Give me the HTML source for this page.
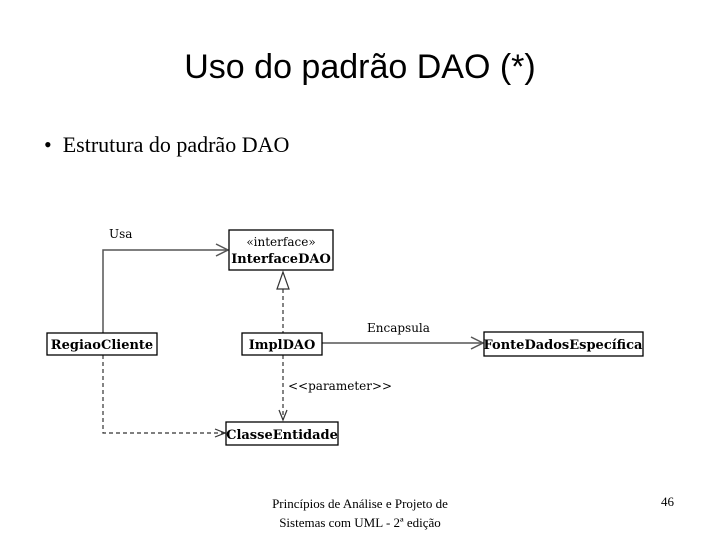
<!DOCTYPE html>
<html><head><meta charset="utf-8"><style>
body{margin:0;width:720px;height:540px;background:#fff;overflow:hidden;position:relative}
.t{position:absolute;white-space:nowrap}
</style></head><body>
<div class="t" style="left:0;width:720px;top:48px;text-align:center;font:34px 'Liberation Sans',sans-serif">Uso do padrão DAO (*)</div>
<div class="t" style="left:44px;top:132px;font:22px 'Liberation Serif',serif">•&nbsp;&nbsp;Estrutura do padrão DAO</div>
<svg width="720" height="540" style="position:absolute;left:0;top:0" font-family="'DejaVu Serif','Liberation Serif',serif">
<g fill="none" stroke="#555" stroke-width="1.5">
<polyline points="103,333 103,250 228,250"/>
<polyline points="216,244 228,250 216,256"/>
<line x1="322" y1="343" x2="483" y2="343"/>
<polyline points="471,337 483,343 471,349"/>
</g>
<g fill="none" stroke="#333" stroke-width="1.2" stroke-dasharray="4,3">
<line x1="283" y1="289" x2="283" y2="333"/>
<line x1="283" y1="355" x2="283" y2="420"/>
<polyline points="103,355 103,433 225,433"/>
</g>
<g fill="none" stroke="#333" stroke-width="1.2">
<polygon points="283,272 277,289 289,289" fill="#fff"/>
<polyline points="279,410 283,420 287,410"/>
<polyline points="215,429 225,433 215,437"/>
</g>
<g fill="#fff" stroke="#000" stroke-width="1.3">
<rect x="229" y="230" width="104" height="40"/>
<rect x="47" y="333" width="110" height="22"/>
<rect x="242" y="333" width="80" height="22"/>
<rect x="226" y="422" width="112" height="23"/>
<rect x="484" y="332" width="159" height="24"/>
</g>
<g font-size="13" fill="#000">
<text x="281" y="246" text-anchor="middle" font-size="12">«interface»</text>
<text x="281" y="263" text-anchor="middle" font-weight="bold">InterfaceDAO</text>
<text x="102" y="349" text-anchor="middle" font-weight="bold">RegiaoCliente</text>
<text x="282" y="349" text-anchor="middle" font-weight="bold">ImplDAO</text>
<text x="282" y="439" text-anchor="middle" font-weight="bold">ClasseEntidade</text>
<text x="563" y="349" text-anchor="middle" font-weight="bold">FonteDadosEspecífica</text>
<text x="109" y="238" font-size="12">Usa</text>
<text x="367" y="332" font-size="12">Encapsula</text>
<text x="288" y="390" font-size="12">&lt;&lt;parameter&gt;&gt;</text>
</g>
</svg>
<div class="t" style="left:200px;width:320px;top:494px;text-align:center;font:13px/19px 'Liberation Serif',serif">Princípios de Análise e Projeto de<br>Sistemas com UML - 2ª edição</div>
<div class="t" style="left:661px;top:494px;font:13px 'Liberation Serif',serif">46</div>
</body></html>
